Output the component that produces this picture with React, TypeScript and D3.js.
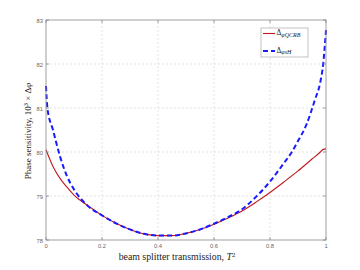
import React from 'react';
import * as d3 from 'd3';

// values
const tRed = [0, 0.025, 0.05, 0.075, 0.1, 0.15, 0.2, 0.25, 0.3, 0.35, 0.4, 0.45, 0.5, 0.55, 0.6, 0.65, 0.7, 0.75, 0.8, 0.85, 0.9, 0.95, 0.98, 0.99, 1.0];
const qcrb = [80.05, 79.67, 79.4, 79.2, 79.02, 78.78, 78.56, 78.38, 78.24, 78.14, 78.1, 78.1, 78.15, 78.24, 78.36, 78.5, 78.66, 78.86, 79.08, 79.32, 79.57, 79.84, 80.0, 80.06, 80.07];
const tBlue = [0, 0.005, 0.025, 0.05, 0.075, 0.1, 0.15, 0.2, 0.25, 0.3, 0.35, 0.4, 0.45, 0.5, 0.55, 0.6, 0.65, 0.7, 0.75, 0.8, 0.85, 0.88, 0.9, 0.93, 0.96, 0.98, 0.99, 1.0];
const qfi = [81.5, 81.0, 80.5, 79.9, 79.45, 79.15, 78.77, 78.56, 78.38, 78.24, 78.14, 78.1, 78.1, 78.15, 78.24, 78.37, 78.52, 78.7, 78.98, 79.33, 79.75, 80.02, 80.25, 80.62, 81.18, 81.6, 82.0, 82.77];
const xTicks = [0, 0.2, 0.4, 0.6, 0.8, 1];
const yTicks = [78, 79, 80, 81, 82, 83];

const W = 360;
const H = 270;
const M = { left: 46, right: 34, top: 20, bottom: 30 };

const App: React.FC = () => {
  const x = d3.scaleLinear().domain([0, 1]).range([M.left, W - M.right]);
  const y = d3.scaleLinear().domain([78, 83]).range([H - M.bottom, M.top]);
  const mkLine = (ts: number[]) => d3.line<number>()
    .x((_, i) => x(ts[i]))
    .y((d) => y(d))
    .curve(d3.curveMonotoneX);

  const x0 = x(0), x1 = x(1), y0 = y(78), y1 = y(83);
  const tickFont = '"Liberation Sans", Arial, sans-serif';
  const serif = '"Liberation Serif", "DejaVu Serif", serif';

  return (
    <svg width={W} height={H} style={{ position: 'absolute', left: 0, top: 0, background: '#fff' }}>
      {/* grid */}
      <g stroke="#d0d0d0" strokeWidth={0.6} strokeDasharray="2,2">
        {xTicks.slice(1, -1).map((t) => (
          <line key={'gx' + t} x1={x(t)} x2={x(t)} y1={y0} y2={y1} />
        ))}
        {yTicks.slice(1, -1).map((t) => (
          <line key={'gy' + t} x1={x0} x2={x1} y1={y(t)} y2={y(t)} />
        ))}
      </g>
      {/* lines */}
      <path d={mkLine(tRed)(qcrb) ?? ''} fill="none" stroke="#c0191f" strokeWidth={1.1} />
      <path d={mkLine(tBlue)(qfi) ?? ''} fill="none" stroke="#1a1aff" strokeWidth={2} strokeDasharray="5,3" />
      {/* box */}
      <rect x={x0} y={y1} width={x1 - x0} height={y0 - y1} fill="none" stroke="#888" strokeWidth={0.8} />
      {/* ticks */}
      <g stroke="#888" strokeWidth={0.8}>
        {xTicks.map((t) => (
          <g key={'tx' + t}>
            <line x1={x(t)} x2={x(t)} y1={y0} y2={y0 - 3} />
            <line x1={x(t)} x2={x(t)} y1={y1} y2={y1 + 3} />
          </g>
        ))}
        {yTicks.map((t) => (
          <g key={'ty' + t}>
            <line x1={x0} x2={x0 + 3} y1={y(t)} y2={y(t)} />
            <line x1={x1} x2={x1 - 3} y1={y(t)} y2={y(t)} />
          </g>
        ))}
      </g>
      <g fontFamily={tickFont} fontSize={5.8} fill="#666">
        {xTicks.map((t) => (
          <text key={'lx' + t} x={x(t)} y={y0 + 8} textAnchor="middle">{d3.format('~g')(t)}</text>
        ))}
        {yTicks.map((t) => (
          <text key={'ly' + t} x={x0 - 3} y={y(t) + 2.5} textAnchor="end">{t}</text>
        ))}
      </g>
      {/* axis labels */}
      <text x={177} y={260} textAnchor="middle" fontFamily={serif} fontSize={9.8} fill="#222">
        beam splitter transmission, <tspan fontStyle="italic">T</tspan><tspan dy={-3.5} fontSize={6.8}>2</tspan>
      </text>
      <text transform={`translate(31,131) rotate(-90)`} textAnchor="middle" fontFamily={serif} fontSize={9} fill="#222">
        Phase sensitivity, 10<tspan dy={-3.5} fontSize={6.3}>3</tspan><tspan dy={3.5}> × Δ</tspan><tspan fontStyle="italic">φ</tspan>
      </text>
      {/* legend */}
      <g>
        <rect x={261} y={28} width={47} height={29} fill="#fff" stroke="#999" strokeWidth={0.6} />
        <line x1={263} x2={275} y1={33.5} y2={33.5} stroke="#c0191f" strokeWidth={1.1} />
        <line x1={263} x2={275} y1={51} y2={51} stroke="#1a1aff" strokeWidth={2} strokeDasharray="5,3" />
        <text x={276.5} y={35} fontFamily={serif} fontSize={7.5} fill="#222">
          Δ<tspan fontStyle="italic" fontSize={6} dy={1.5}>φQCRB</tspan>
        </text>
        <text x={276.5} y={52.5} fontFamily={serif} fontSize={7.5} fill="#222">
          Δ<tspan fontStyle="italic" fontSize={6} dy={1.5}>φsH</tspan>
        </text>
      </g>
    </svg>
  );
};

export default App;
